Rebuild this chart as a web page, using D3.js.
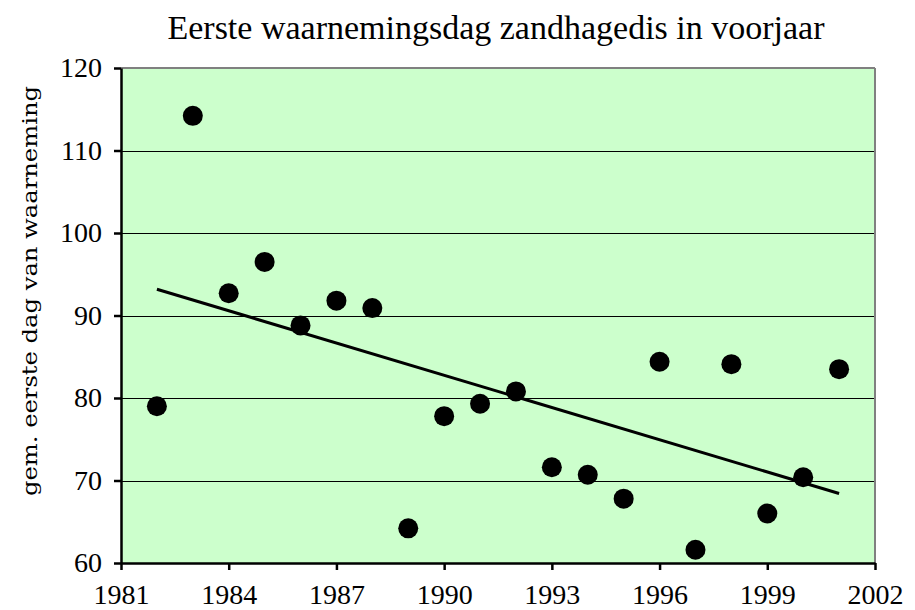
<!DOCTYPE html>
<html><head><meta charset="utf-8">
<script src="https://cdn.jsdelivr.net/npm/d3@7"></script>
<style>body{margin:0;background:#fff}svg{display:block}</style>
</head><body>
<script>
const years = [1982,1983,1984,1985,1986,1987,1988,1989,1990,1991,1992,1993,1994,1995,1996,1997,1998,1999,2000,2001];
const values = [79,114.2,92.7,96.5,88.8,91.8,90.9,64.2,77.8,79.3,80.8,71.6,70.7,67.8,84.4,61.6,84.1,66,70.4,83.5];
const xTicks = [1981,1984,1987,1990,1993,1996,1999,2002];
const yTicks = [60,70,80,90,100,110,120];
const title = "Eerste waarnemingsdag zandhagedis in voorjaar";
const yLabel = "gem. eerste dag van waarneming";

const W = 915, H = 610;
const m = {l:121, r:875, t:68, b:563};
const svg = d3.select("body").append("svg").attr("width",W).attr("height",H);
const x = d3.scaleLinear().domain([1981,2002]).range([m.l,m.r]);
const y = d3.scaleLinear().domain([60,120]).range([m.b,m.t]);

svg.append("rect").attr("x",m.l).attr("y",m.t).attr("width",m.r-m.l).attr("height",m.b-m.t).attr("fill","#CCFFCC");
// gridlines
svg.append("g").selectAll("line").data(yTicks.filter(d=>d>60&&d<120)).join("line")
  .attr("x1",m.l).attr("x2",m.r).attr("y1",d=>Math.round(y(d))+0.5).attr("y2",d=>Math.round(y(d))+0.5)
  .attr("stroke","#000").attr("stroke-width",1);
// top and right border
svg.append("line").attr("x1",m.l).attr("x2",m.r).attr("y1",m.t).attr("y2",m.t).attr("stroke","#808080").attr("stroke-width",2);
svg.append("line").attr("x1",m.r).attr("x2",m.r).attr("y1",m.t).attr("y2",m.b).attr("stroke","#808080").attr("stroke-width",2);

// axes
const fontSerif = "'Liberation Serif','Times New Roman',serif";
const yAxis = svg.append("g").attr("transform",`translate(${m.l},0)`)
  .call(d3.axisLeft(y).tickValues(yTicks).tickSize(7).tickSizeOuter(0).tickPadding(12));
const xAxis = svg.append("g").attr("transform",`translate(0,${m.b})`)
  .call(d3.axisBottom(x).tickValues(xTicks).tickFormat(d3.format("d")).tickSize(7).tickSizeOuter(0).tickPadding(14));
[yAxis,xAxis].forEach(a=>{
  a.select(".domain").attr("stroke","#000").attr("stroke-width",2.5);
  a.selectAll(".tick line").attr("stroke","#000").attr("stroke-width",2.5);
  a.selectAll(".tick text").attr("font-family",fontSerif).attr("font-size",28).attr("fill","#000");
});

// trend line (least squares)
const mx = d3.mean(years), my = d3.mean(values);
const slope = d3.sum(years.map((v,i)=>(v-mx)*(values[i]-my))) / d3.sum(years.map(v=>(v-mx)*(v-mx)));
const icpt = my - slope*mx;
const x0 = d3.min(years), x1 = d3.max(years);
svg.append("line").attr("x1",x(x0)).attr("y1",y(icpt+slope*x0)).attr("x2",x(x1)).attr("y2",y(icpt+slope*x1))
  .attr("stroke","#000").attr("stroke-width",3);

// points
svg.append("g").selectAll("circle").data(years).join("circle")
  .attr("cx",d=>x(d)).attr("cy",(d,i)=>y(values[i])).attr("r",10).attr("fill","#000");

// title
svg.append("text").attr("x",496).attr("y",39).attr("text-anchor","middle")
  .attr("font-family",fontSerif).attr("font-size",34).text(title);
// y label
svg.append("text").attr("transform","translate(37,291) rotate(-90)").attr("text-anchor","middle")
  .attr("font-family","'DejaVu Serif',serif").attr("font-size",20)
  .attr("textLength",410).attr("lengthAdjust","spacingAndGlyphs").text(yLabel);
</script>
</body></html>
